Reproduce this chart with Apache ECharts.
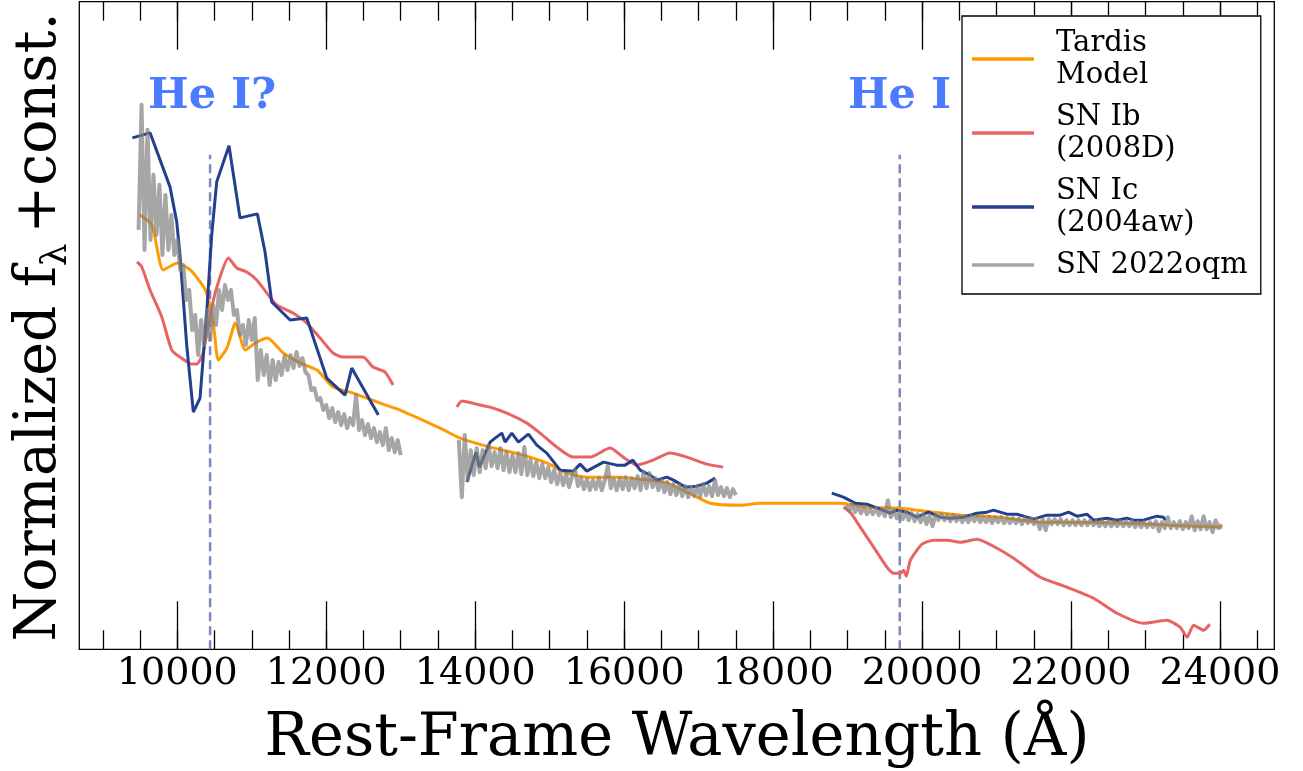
<!DOCTYPE html>
<html><head><meta charset="utf-8">
<script src="https://cdn.jsdelivr.net/npm/echarts@6/dist/echarts.min.js"></script>
<style>html,body{margin:0;padding:0;background:#fff}#c{width:1303px;height:771px}</style>
</head><body><div id="c"></div>
<script>
// ---- axis ticks ----
const xMajorTicks = [10000, 12000, 14000, 16000, 18000, 20000, 22000, 24000];
const xMinorTicks = [9000, 9500, 10000, 10500, 11000, 11500, 12000, 12500, 13000, 13500, 14000, 14500, 15000, 15500, 16000, 16500, 17000, 17500, 18000, 18500, 19000, 19500, 20000, 20500, 21000, 21500, 22000, 22500, 23000, 23500, 24000, 24500];
const xMin = 8684, xMax = 24729;
const yMin = 0, yMax = 6.47;

// ---- series (wavelength [A], normalized flux + const) ----
const tardisModel = [[9499,4.34],[9660,4.24],[9810,3.79],[10000,3.86],[10174,3.79],[10376,3.59],[10483,3.26],[10551,2.89],[10672,3.02],[10779,3.26],[10913,2.99],[11047,3.06],[11209,3.11],[11424,2.96],[11652,2.86],[11876,2.79],[12091,2.62],[12360,2.56],[12722,2.46],[12990,2.39],[13527,2.21],[13796,2.11],[14199,2.02],[14643,1.94],[14965,1.86],[15234,1.76],[15503,1.72],[15946,1.72],[16215,1.70],[16578,1.66],[16927,1.54],[17155,1.46],[17558,1.44],[17827,1.46],[18364,1.46],[18901,1.46],[19264,1.42],[19707,1.41],[20150,1.37],[20513,1.34],[21050,1.32],[21587,1.27],[21950,1.27],[22836,1.26],[23293,1.24],[24031,1.22]];

const snIb2008D_a = [[9459,3.87],[9522,3.82],[9634,3.59],[9791,3.32],[9925,2.99],[10036,2.92],[10193,2.85],[10261,2.85],[10345,2.96],[10462,3.42],[10573,3.72],[10685,3.91],[10798,3.81],[10932,3.77],[11066,3.69],[11201,3.56],[11335,3.44],[11554,3.36],[11738,3.26],[11917,3.11],[12091,2.96],[12225,2.92],[12494,2.92],[12628,2.82],[12789,2.77],[12897,2.64]];
const snIb2008D_b = [[13754,2.42],[13821,2.48],[14066,2.44],[14200,2.42],[14424,2.36],[14693,2.26],[14871,2.16],[15096,2.02],[15314,1.92],[15543,1.92],[15811,2.01],[15986,1.92],[16170,1.84],[16389,1.89],[16617,1.96],[16841,1.92],[17110,1.85],[17329,1.82]];
const snIb2008D_c = [[18946,1.42],[19036,1.37],[19170,1.22],[19349,1.02],[19529,0.82],[19618,0.76],[19708,0.76],[19752,0.79],[19788,0.73],[19842,0.89],[19999,1.05],[20155,1.09],[20335,1.09],[20513,1.07],[20738,1.10],[21006,1.01],[21229,0.91],[21587,0.72],[21946,0.62],[22303,0.51],[22617,0.36],[22974,0.26],[23288,0.29],[23467,0.22],[23557,0.12],[23646,0.24],[23781,0.19],[23862,0.25]];

const snIc2004aw_a = [[9397,5.11],[9634,5.16],[9902,4.62],[9992,4.27],[10036,3.94],[10126,3.04],[10215,2.37],[10305,2.51],[10395,3.37],[10462,4.14],[10529,4.67],[10694,5.03],[10842,4.31],[11075,4.35],[11178,3.97],[11268,3.47],[11514,3.29],[11738,3.31],[12006,2.71],[12252,2.54],[12342,2.81],[12699,2.34]];
const snIc2004aw_b = [[13888,1.67],[14011,1.97],[14056,1.82],[14200,2.07],[14267,2.11],[14357,2.16],[14401,2.07],[14491,2.16],[14580,2.07],[14714,2.15],[14827,2.04],[14961,1.96],[15140,1.79],[15319,1.78],[15409,1.85],[15498,1.78],[15722,1.87],[15901,1.84],[16013,1.84],[16116,1.89],[16215,1.79],[16349,1.74],[16439,1.69],[16573,1.72],[16662,1.69],[16820,1.62],[16976,1.63],[17110,1.66],[17221,1.71]];
const snIc2004aw_c = [[18788,1.56],[18944,1.52],[19101,1.46],[19258,1.45],[19437,1.40],[19571,1.36],[19661,1.39],[19796,1.37],[19930,1.32],[20086,1.37],[20243,1.32],[20377,1.31],[20556,1.32],[20736,1.36],[20870,1.37],[20959,1.39],[21139,1.35],[21273,1.35],[21496,1.30],[21676,1.34],[21855,1.34],[21966,1.37],[22079,1.33],[22213,1.35],[22302,1.29],[22481,1.31],[22616,1.29],[22750,1.31],[22839,1.29],[22973,1.29],[23063,1.31],[23153,1.33],[23242,1.32],[23265,1.29]];

// SN 2022oqm: three spectral pieces on uniform wavelength grids
const oqm1Start = 9480, oqm1Step = 40;
const oqm1Flux = [4.19,5.44,3.99,5.19,4.09,4.74,4.14,4.64,3.94,4.54,3.99,4.34,3.94,4.09,3.79,3.84,3.49,3.59,3.19,3.34,2.94,3.29,3.04,3.39,3.09,3.44,3.24,3.59,3.39,3.64,3.49,3.59,3.34,3.39,3.14,3.24,3.04,3.29,3.09,3.31,2.69,2.99,2.74,2.94,2.64,2.89,2.69,2.87,2.74,2.93,2.79,2.94,2.81,2.97,2.83,2.91,2.77,2.74,2.59,2.61,2.49,2.51,2.39,2.44,2.31,2.41,2.27,2.37,2.24,2.35,2.21,2.31,2.24,2.54,2.19,2.29,2.14,2.25,2.11,2.21,2.07,2.17,2.04,2.21,1.99,2.11,1.97,2.09,1.94];
const oqm2Start = 13780, oqm2Step = 40;
const oqm2Flux = [2.09,1.52,2.14,1.69,1.99,1.74,2.01,1.77,1.99,1.81,2.04,1.83,1.97,1.81,2.01,1.79,1.97,1.77,1.94,1.77,1.96,1.75,2.02,1.74,1.89,1.73,1.87,1.71,1.85,1.71,1.82,1.67,1.79,1.65,1.77,1.64,1.75,1.62,1.73,1.79,1.63,1.71,1.60,1.70,1.59,1.69,1.60,1.71,1.59,1.69,1.83,1.61,1.70,1.59,1.71,1.60,1.72,1.59,1.71,1.61,1.73,1.59,1.77,1.61,1.76,1.62,1.71,1.59,1.69,1.57,1.67,1.55,1.65,1.54,1.64,1.53,1.63,1.52,1.62,1.53,1.63,1.53,1.65,1.54,1.63,1.53,1.69,1.54,1.62,1.53,1.61,1.52,1.60,1.54];
const oqm3Start = 18980, oqm3Step = 40;
const oqm3Flux = [1.44,1.38,1.45,1.37,1.43,1.36,1.42,1.35,1.40,1.35,1.41,1.34,1.40,1.33,1.49,1.32,1.39,1.31,1.38,1.30,1.37,1.29,1.36,1.28,1.35,1.27,1.35,1.25,1.34,1.23,1.34,1.29,1.35,1.29,1.34,1.28,1.34,1.28,1.33,1.27,1.33,1.27,1.33,1.28,1.33,1.27,1.32,1.27,1.32,1.26,1.32,1.27,1.32,1.26,1.31,1.26,1.31,1.26,1.31,1.25,1.31,1.26,1.31,1.25,1.30,1.20,1.30,1.19,1.30,1.25,1.30,1.25,1.30,1.24,1.29,1.24,1.29,1.24,1.29,1.24,1.29,1.24,1.29,1.24,1.28,1.23,1.28,1.23,1.28,1.23,1.28,1.23,1.28,1.23,1.28,1.23,1.28,1.22,1.27,1.22,1.27,1.22,1.27,1.22,1.28,1.18,1.27,1.21,1.32,1.21,1.27,1.21,1.28,1.20,1.27,1.21,1.33,1.19,1.28,1.20,1.33,1.20,1.27,1.17,1.29,1.21,1.25];

// He I line markers
const heLineWavelengths = [10440, 19700];
const heLineTop = 4.94;
const heLabels = [{text: 'He I?', x: 9607, y: 5.52}, {text: 'He I', x: 19005, y: 5.52}];

const legendNames = ['Tardis\nModel', 'SN Ib\n(2008D)', 'SN Ic\n(2004aw)', 'SN 2022oqm'];

// ---- build helpers ----
function joinPieces(pieces) {
  const out = [];
  pieces.forEach((p, i) => {
    if (i > 0) out.push([ (out[out.length-1][0] + p[0][0]) / 2, null ]);
    p.forEach(d => out.push(d));
  });
  return out;
}
function gridPiece(start, step, flux) { return flux.map((f, i) => [start + i * step, f]); }

const oqmData = joinPieces([gridPiece(oqm1Start, oqm1Step, oqm1Flux), gridPiece(oqm2Start, oqm2Step, oqm2Flux), gridPiece(oqm3Start, oqm3Step, oqm3Flux)]);
const ibData = joinPieces([snIb2008D_a, snIb2008D_b, snIb2008D_c]);
const icData = joinPieces([snIc2004aw_a, snIc2004aw_b, snIc2004aw_c]);

const SERIF = 'DejaVu Serif';
const tickStyle = {color: '#000', width: 1.3};
function xAx(pos, ticks, len, labels) {
  return {
    type: 'value', position: pos, min: xMin, max: xMax, offset: 0,
    axisLine: {show: false}, splitLine: {show: false},
    axisTick: {show: true, inside: true, length: len, customValues: ticks, lineStyle: tickStyle},
    axisLabel: labels ? {show: true, customValues: ticks, fontSize: 38, fontFamily: SERIF, color: '#000', margin: 6, formatter: v => String(v)} : {show: false}
  };
}

const chart = echarts.init(document.getElementById('c'), null, {renderer: 'canvas'});
const option = {
  animation: false,
  backgroundColor: '#fff',
  grid: {left: 79.3, right: 28.7, top: 1.7, bottom: 121.7, show: true, borderColor: '#000', borderWidth: 1.3, backgroundColor: 'transparent'},
  xAxis: [
    xAx('bottom', xMajorTicks, 48, true),
    xAx('bottom', xMinorTicks, 19, false),
    xAx('top', xMajorTicks, 48, false),
    xAx('top', xMinorTicks, 19, false)
  ],
  yAxis: {type: 'value', min: yMin, max: yMax, axisLine: {show: false}, axisTick: {show: false}, axisLabel: {show: false}, splitLine: {show: false}},
  legend: {
    data: legendNames, orient: 'vertical', left: 962, top: 16,
    padding: [11, 13, 13, 10], itemGap: 10,
    backgroundColor: '#fff', borderColor: '#000', borderWidth: 1.3, borderRadius: 0,
    icon: 'rect', itemWidth: 62, itemHeight: 3.5,
    textStyle: {fontFamily: SERIF, fontSize: 29, lineHeight: 32, color: '#000', padding: [0, 0, 0, 17]},
    selectedMode: false
  },
  series: [
    {name: legendNames[0], type: 'line', data: tardisModel, showSymbol: false, symbol: 'none', smooth: 0.2, lineStyle: {color: '#ff9a00', width: 3}, itemStyle: {color: '#ff9a00'}, z: 2},
    {name: legendNames[1], type: 'line', data: ibData, showSymbol: false, symbol: 'none', smooth: 0.2, connectNulls: false, lineStyle: {color: '#e86464', width: 3}, itemStyle: {color: '#e86464'}, z: 3},
    {name: legendNames[2], type: 'line', data: icData, showSymbol: false, symbol: 'none', connectNulls: false, lineStyle: {color: '#233f8e', width: 3}, itemStyle: {color: '#233f8e'}, z: 4},
    {name: legendNames[3], type: 'line', data: oqmData, showSymbol: false, symbol: 'none', connectNulls: false, lineStyle: {color: '#808080', width: 4, opacity: 0.7, join: 'round'}, itemStyle: {color: '#a6a6a6'}, z: 5},
    ...heLineWavelengths.map(w => ({
      name: 'He line', type: 'line', data: [[w, yMin], [w, heLineTop]], showSymbol: false, symbol: 'none', silent: true,
      lineStyle: {color: '#7b88c0', width: 2.5, type: [9, 5]}, z: 1
    }))
  ],
  graphic: [
    {type: 'text', x: 677, y: 740, silent: true, style: {text: 'Rest-Frame Wavelength (Å)', fontFamily: SERIF, fontSize: 59, fill: '#000', align: 'center', verticalAlign: 'middle'}},
    {type: 'text', x: 40, y: 327, rotation: Math.PI / 2, silent: true, style: {
      text: '{a|Normalized f}{s|λ}{a|+const.}', align: 'center', verticalAlign: 'middle', fill: '#000',
      rich: {a: {fontFamily: SERIF, fontSize: 57, lineHeight: 70, verticalAlign: 'middle', fill: '#000'}, s: {fontFamily: SERIF, fontSize: 36, lineHeight: 40, verticalAlign: 'bottom', fill: '#000', padding: [0, 10, 0, 0]}}
    }}
  ]
};
chart.setOption(option);
const heGraphics = heLabels.map(l => {
  const p = chart.convertToPixel({xAxisIndex: 0, yAxisIndex: 0}, [l.x, l.y]);
  return {type: 'text', x: p[0], y: p[1], silent: true, z: 10, style: {text: l.text, fontFamily: SERIF, fontWeight: 'bold', fontSize: 43, fill: '#4b7bff', align: 'left', verticalAlign: 'middle'}};
});
chart.setOption({graphic: option.graphic.concat(heGraphics)});
</script>
</body></html>
